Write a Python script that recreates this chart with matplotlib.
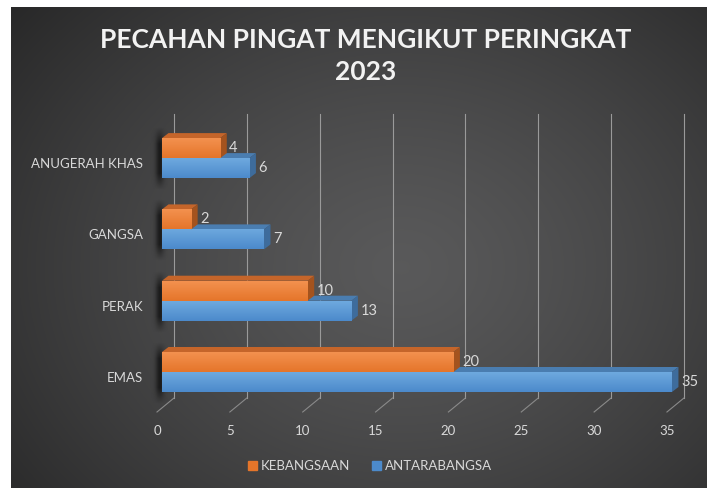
import numpy as np
import matplotlib
import matplotlib.pyplot as plt
from matplotlib.patches import Polygon, Patch
from matplotlib.transforms import ScaledTranslation

matplotlib.use('AGG')

# Data
categories = ["EMAS", "PERAK", "GANGSA", "ANUGERAH KHAS"]
kebangsaan = [20, 10, 2, 4]
antarabangsa = [35, 13, 7, 6]
xticks = [0, 5, 10, 15, 20, 25, 30, 35]
title = "PECAHAN PINGAT MENGIKUT PERINGKAT\n2023"

# front (light, dark), top, side
ORANGE = (("#F3914F", "#E5752A"), "#C5652A", "#A4531E")
BLUE = (("#6EA9DF", "#4C8ACB"), "#4A7DB0", "#3E6C9C")
TXT = "#D9D9D9"
FONT = "Lato"

W, H, DPI = 707, 488, 100
PX_X = 14.57          # pixels per unit along x
PX_Y = 71.3           # pixels per category
BAR_H = 20 / PX_Y     # each bar is 20 px high
CAP_DX, CAP_DY = 6.5, 5.0   # depth of the 3d bar faces (px)

fig = plt.figure(figsize=(W / DPI, H / DPI), dpi=DPI)
fig.patch.set_facecolor("white")

# radial background
bg = fig.add_axes([11 / W, 0, 1 - 11 / W, 1 - 7 / H])
bg.set_axis_off()
yy, xx = np.mgrid[0:481, 0:696]
r = np.hypot((xx - 390) / 520, (yy - 260) / 420)
shade = np.clip(0.35 - 0.2 * r ** 1.3, 0.14, 1)
img = np.dstack([shade, shade, shade * 1.01])
bg.imshow(np.clip(img, 0, 1), aspect="auto", interpolation="bilinear")

# plot axes: x=0 at 162 px, category 0 centre at 116 px from bottom
x0, yc0 = 162, 116
ax = fig.add_axes([x0 / W, (yc0 - 0.5 * PX_Y) / H, 35 * PX_X / W, 4 * PX_Y / H])
ax.set_axis_off()

def shifted(dx, dy):
    return ax.transData + ScaledTranslation(dx / DPI, dy / DPI, fig.dpi_scale_trans)

# back wall gridlines + floor lines
wall_top = 3.5 + (374 - (yc0 + 3.5 * PX_Y)) / PX_Y
wall_bot = (90 - yc0) / PX_Y
for t in xticks:
    ax.plot([t, t], [wall_bot, wall_top], color="#9a9a9a", lw=0.8,
            transform=shifted(12, 0), clip_on=False, zorder=1)
    ax.plot([t + 12 / PX_X, t - 5 / PX_X], [wall_bot, wall_bot - 14 / PX_Y],
            color="#8a8a8a", lw=0.8, clip_on=False, zorder=1)
    ax.text(t - 5 / PX_X, wall_bot - 33 / PX_Y, str(t), color=TXT, fontsize=9.5,
            family=FONT, ha="center", va="center")

# soft shadow to the left of each bar pair
gy, gx = np.mgrid[0:70, 0:40]
sh = np.zeros((70, 40, 4))
a = np.exp(-((gx - 28) / 6.0) ** 2) * np.clip(np.minimum(gy, 69 - gy) / 18, 0, 1)
sh[..., 3] = 0.6 * a
for i in range(len(categories)):
    im = ax.imshow(sh, extent=[-22 / PX_X, 6 / PX_X, i - BAR_H - 12 / PX_Y, i + BAR_H + 10 / PX_Y],
                   aspect="auto", zorder=2, interpolation="bilinear")
    im.set_clip_on(False)

dx, dy = CAP_DX / PX_X, CAP_DY / PX_Y
grad = np.linspace(0, 1, 32)[:, None]

def bar3d(y, v, cols, z):
    y0, y1 = y - BAR_H / 2, y + BAR_H / 2
    ax.add_patch(Polygon([(0, y1), (v, y1), (v + dx, y1 + dy), (dx, y1 + dy)],
                         closed=True, fc=cols[1], ec="none", zorder=z, clip_on=False))
    ax.add_patch(Polygon([(v, y0), (v + dx, y0 + dy), (v + dx, y1 + dy), (v, y1)],
                         closed=True, fc=cols[2], ec="none", zorder=z, clip_on=False))
    bar = ax.barh(y, v, height=BAR_H, color=cols[0][1], zorder=z + 0.1, clip_on=False)[0]
    # vertical shading on the front face
    c_top = np.array(matplotlib.colors.to_rgb(cols[0][0]))
    c_bot = np.array(matplotlib.colors.to_rgb(cols[0][1]))
    face = c_top * (1 - grad[..., None]) + c_bot * grad[..., None]
    im = ax.imshow(np.repeat(face, 2, axis=1), extent=[0, v, y0, y1], aspect="auto",
                   zorder=z + 0.15, interpolation="bilinear")
    im.set_clip_path(bar)
    ax.text(v + dx + 2.5 / PX_X, y, str(v), color=TXT, fontsize=10.5, family=FONT,
            ha="left", va="center", zorder=z + 0.2)

for i, (k, a_) in enumerate(zip(kebangsaan, antarabangsa)):
    bar3d(i - BAR_H / 2, a_, BLUE, 3)
    bar3d(i + BAR_H / 2, k, ORANGE, 4)
    ax.text(-19 / PX_X, i - 6 / PX_Y, categories[i], color=TXT, fontsize=9.5,
            family=FONT, ha="right", va="center")

ax.set_xlim(0, 35)
ax.set_ylim(-0.5, 3.5)

fig.text(366 / W, 1 - 56 / H, title, color="#F2F2F2", fontsize=19, family=FONT,
         fontweight="bold", ha="center", va="center", linespacing=1.45)

handles = [Patch(color=ORANGE[0][1], label="KEBANGSAAN"),
           Patch(color=BLUE[0][1], label="ANTARABANGSA")]
leg = fig.legend(handles=handles, loc="center", bbox_to_anchor=(370 / W, 22 / H), ncol=2,
                 frameon=False, handlelength=0.7, handleheight=0.7, handletextpad=0.3,
                 columnspacing=1.6, prop={"family": FONT, "size": 9.5})
for t in leg.get_texts():
    t.set_color(TXT)

fig.savefig("out.png", dpi=DPI, facecolor=fig.get_facecolor())
